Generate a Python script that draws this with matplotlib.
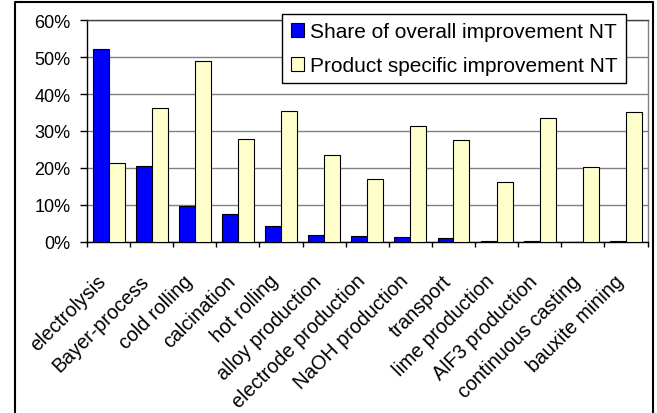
import numpy as np
import matplotlib
matplotlib.use("Agg")
import matplotlib.pyplot as plt
from matplotlib.transforms import ScaledTranslation
from matplotlib.lines import Line2D

categories = ["electrolysis", "Bayer-process", "cold rolling", "calcination",
              "hot rolling", "alloy production", "electrode production",
              "NaOH production", "transport", "lime production",
              "AlF3 production", "continuous casting", "bauxite mining"]
share_overall = [52.1, 20.4, 9.7, 7.6, 4.3, 1.8, 1.5, 1.3, 0.9, 0.2, 0.2, 0.05, 0.2]
product_specific = [21.2, 36.3, 49.0, 27.8, 35.5, 23.5, 16.9, 31.4, 27.6, 16.3, 33.5, 20.2, 35.1]
series_names = ["Share of overall improvement NT", "Product specific improvement NT"]
y_ticks = [0, 10, 20, 30, 40, 50, 60]

plt.rcParams["font.family"] = ["Liberation Sans", "DejaVu Sans"]

W, H = 657, 414
fig = plt.figure(figsize=(W / 100, H / 100), dpi=100)
ax = fig.add_axes([87 / W, 1 - 242.7 / H, (647.5 - 87) / W, (242.7 - 21.3) / H])

x = np.arange(len(categories))
bw = 0.37
ax.bar(x - bw / 2, share_overall, bw, color="#0000FF", edgecolor="black",
       linewidth=0.8, label=series_names[0], zorder=3)
ax.bar(x + bw / 2, product_specific, bw, color="#FFFFCC", edgecolor="black",
       linewidth=0.8, label=series_names[1], zorder=3)

ax.set_xlim(-0.5, len(categories) - 0.5)
ax.set_ylim(0, 60)
ax.set_yticks(y_ticks)
ax.set_yticklabels([f"{v}%" for v in y_ticks], fontsize=13)
ax.yaxis.grid(True, color="#808080", linewidth=1.0, zorder=0)
ax.set_axisbelow(True)

# category boundaries carry the ticks
ax.set_xticks(np.arange(len(categories) + 1) - 0.5)
ax.set_xticklabels([])
ax.tick_params(axis="x", direction="out", length=3.6, width=1, color="black")
ax.tick_params(axis="y", direction="out", length=5, width=1, color="black", pad=7)
ax.set_xticks(x, minor=True)
ax.set_xticklabels(categories, minor=True, rotation=45, ha="right",
                   rotation_mode="anchor", fontsize=14.2)
ax.tick_params(axis="x", which="minor", length=0, pad=21)
shift = ScaledTranslation(-12 / 100, 0, fig.dpi_scale_trans)
for lab in ax.get_xticklabels(minor=True):
    lab.set_verticalalignment("top")
    lab.set_transform(lab.get_transform() + shift)

for side in ("left", "bottom"):
    ax.spines[side].set_color("black")
    ax.spines[side].set_linewidth(1.0)
ax.spines["top"].set_color("#404040")
ax.spines["right"].set_color("#808080")
ax.spines["top"].set_linewidth(1.0)
ax.spines["right"].set_linewidth(1.0)

leg = fig.legend(loc="upper right", bbox_to_anchor=(626 / W, 1 - 14.7 / H),
                 fontsize=15, frameon=True, fancybox=False, framealpha=1,
                 edgecolor="black", handlelength=0.65, handleheight=0.65,
                 handletextpad=0.28, labelspacing=0.72, borderpad=0.4,
                 borderaxespad=0)
leg.get_frame().set_linewidth(1.0)

# outer chart frame (left, top, right)
fx = [15 / W, 15 / W, 653 / W, 653 / W]
fy = [0, 1 - 3 / H, 1 - 3 / H, 0]
fig.add_artist(Line2D(fx, fy, color="black", linewidth=1.5, transform=fig.transFigure))

fig.savefig("out.png", dpi=100)
